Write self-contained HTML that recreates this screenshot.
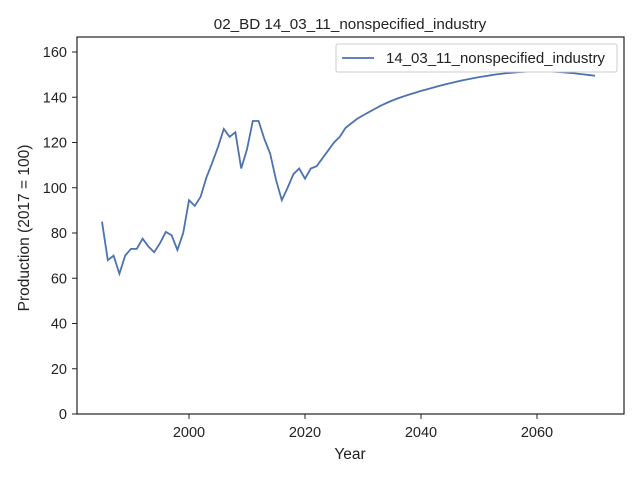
<!DOCTYPE html>
<html><head><meta charset="utf-8"><style>
body{margin:0;background:#fff;font-family:"Liberation Sans","DejaVu Sans",sans-serif;}
svg text{font-family:"Liberation Sans","DejaVu Sans",sans-serif;fill:#222;}
</style></head><body>
<svg id="chart" width="640" height="480">
<text x="350" y="29" font-size="15.2" text-anchor="middle">02_BD 14_03_11_nonspecified_industry</text>
<rect x="77" y="37" width="547" height="377" fill="none" stroke="#222" stroke-width="1.2"/>
<g id="xt"></g><g id="yt"></g>
<polyline id="line" fill="none" stroke="#4c72b0" stroke-width="1.8"/>
<text x="350" y="459" font-size="15.5" text-anchor="middle">Year</text>
<text transform="translate(29,228) rotate(-90)" font-size="15.5" text-anchor="middle">Production (2017 = 100)</text>
<g>
<rect x="336" y="44" width="281" height="28" fill="#fff" stroke="#ccc" rx="2"/>
<line x1="342" y1="58" x2="374" y2="58" stroke="#4c72b0" stroke-width="1.8"/>
<text x="386" y="63" font-size="15">14_03_11_nonspecified_industry</text>
</g>
</svg>
<script>
const startYear=1985;
const values=[85,68,70,62,70,73,73,77.5,74,71.5,75.5,80.5,79,72.5,80,94.5,92,96,104.5,111,118,126,122.5,124.5,108.5,117,129.5,129.5,121.5,115,103.5,94.5,100,106,108.5,104,108.5,109.5,113,116.5,120,122.5,126.5,128.5,130.5,132,133.4,134.8,136.2,137.4,138.5,139.5,140.4,141.2,142,142.8,143.5,144.2,144.9,145.6,146.2,146.8,147.4,147.9,148.4,148.9,149.3,149.7,150.1,150.4,150.7,150.9,151.1,151.3,151.4,151.5,151.5,151.4,151.3,151.1,150.9,150.7,150.4,150.1,149.8,149.5];
const xTicks=[2000,2020,2040,2060];
const yTicks=[0,20,40,60,80,100,120,140,160];
const X=y=>189+(y-2000)*(305-189)/20;
const Y=v=>414-v*(414-52)/160;
const ns="http://www.w3.org/2000/svg";
const xt=document.getElementById('xt'),yt=document.getElementById('yt');
xTicks.forEach(t=>{
 const l=document.createElementNS(ns,'line');l.setAttribute('x1',X(t));l.setAttribute('x2',X(t));l.setAttribute('y1',414);l.setAttribute('y2',419);l.setAttribute('stroke','#222');
 
 
 xt.appendChild(l);
 const tx=document.createElementNS(ns,'text');tx.setAttribute('x',X(t));tx.setAttribute('y',437);tx.setAttribute('font-size','14.5');tx.setAttribute('text-anchor','middle');tx.textContent=t;
 
 
 xt.appendChild(tx);
});
yTicks.forEach(t=>{
 const l=document.createElementNS(ns,'line');l.setAttribute('x1',72);l.setAttribute('x2',77);l.setAttribute('y1',Y(t));l.setAttribute('y2',Y(t));l.setAttribute('stroke','#222');
 
 
 yt.appendChild(l);
 const tx=document.createElementNS(ns,'text');tx.setAttribute('x',67);tx.setAttribute('y',Y(t)+5);tx.setAttribute('font-size','14.5');tx.setAttribute('text-anchor','end');tx.textContent=t;
 
 
 yt.appendChild(tx);
});
document.getElementById('line').setAttribute('points',values.map((v,i)=>X(startYear+i)+','+Y(v)).join(' '));
</script>
</body></html>
